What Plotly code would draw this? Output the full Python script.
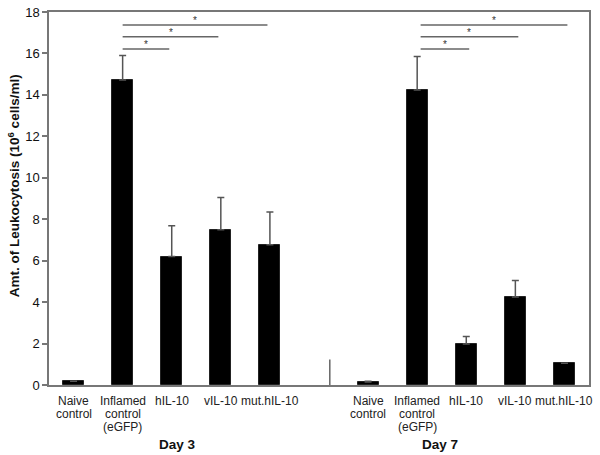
import plotly.graph_objects as go

# ---- data ----
groups = ["Day 3", "Day 7"]
categories = ["Naive<br>control", "Inflamed<br>control<br>(eGFP)", "hIL-10", "vIL-10", "mut.hIL-10"]
day3_values = [0.18, 14.72, 6.20, 7.49, 6.77]
day3_errors = [0.0, 1.18, 1.49, 1.56, 1.58]
day7_values = [0.15, 14.24, 1.98, 4.25, 1.05]
day7_errors = [0.03, 1.61, 0.36, 0.79, 0.0]
y_ticks = [0, 2, 4, 6, 8, 10, 12, 14, 16, 18]
# significance comparisons: (from category index, to category index)
sig_pairs = [(1, 2), (1, 3), (1, 4)]
sig_levels = [16.22, 16.80, 17.37]

FONT = "Arial, 'Liberation Sans', sans-serif"
n = len(categories)
gap = 1
x3 = list(range(n))
x7 = [i + n + gap for i in range(n)]

fig = go.Figure()
for xs, vals, errs in [(x3, day3_values, day3_errors), (x7, day7_values, day7_errors)]:
    fig.add_trace(go.Bar(
        x=xs, y=vals, width=0.43,
        marker=dict(color="#000000", line=dict(color="#222222", width=1)),
        error_y=dict(type="data", symmetric=False, array=errs, arrayminus=[0] * n,
                     color="#555555", thickness=1.5, width=3.5),
        showlegend=False, hoverinfo="skip",
    ))

shapes = []
annotations = []
# significance lines
for xs, offs in [(x3, (0.0, -0.05)), (x7, (0.07, 0.06))]:
    for (a, b), lvl in zip(sig_pairs, sig_levels):
        x0 = xs[a] + offs[0]
        x1 = xs[b] + offs[1]
        shapes.append(dict(type="line", xref="x", yref="y", x0=x0, x1=x1, y0=lvl, y1=lvl,
                           line=dict(color="#666666", width=1.5)))
        annotations.append(dict(x=(x0 + x1) / 2, y=lvl, xref="x", yref="y", text="*",
                                showarrow=False, yanchor="bottom", yshift=-3,
                                font=dict(family=FONT, size=10, color="#333333")))

# separator between groups
sep_x = n - 1 + (gap + 1) / 2 + 0.22
shapes.append(dict(type="line", xref="x", yref="y", x0=sep_x, x1=sep_x, y0=0, y1=1.23,
                   line=dict(color="#666666", width=1.5)))

# category labels (one annotation per line)
for xs in (x3, x7):
    for xi, lab in zip(xs, categories):
        for k, line in enumerate(lab.split("<br>")):
            annotations.append(dict(x=xi, y=0, xref="x", yref="paper", text=line,
                                    showarrow=False, xanchor="center", yanchor="middle",
                                    yshift=-(16.2 + 12.7 * k),
                                    font=dict(family=FONT, size=12, color="#222222")))

# group labels
for g, xs, dx in zip(groups, (x3, x7), (0.12, -0.53)):
    annotations.append(dict(x=(xs[0] + xs[-1]) / 2 + dx, y=0, xref="x", yref="paper", text="<b>%s</b>" % g,
                            showarrow=False, xanchor="center", yanchor="middle", yshift=-59.5,
                            font=dict(family=FONT, size=13.5, color="#111111")))

# y-axis title
annotations.append(dict(x=-0.066, y=0.534, xref="paper", yref="paper",
                        text="<b>Amt. of Leukocytosis (10<sup>6</sup> cells/ml)</b>",
                        textangle=-90, showarrow=False, xanchor="center", yanchor="middle",
                        font=dict(family=FONT, size=13.5, color="#111111")))

fig.update_layout(
    width=600, height=455,
    margin=dict(l=49, r=11, t=12, b=70),
    paper_bgcolor="white", plot_bgcolor="white",
    shapes=shapes, annotations=annotations,
    bargap=0,
    xaxis=dict(range=[-0.5, 2 * n + gap - 0.5], showline=True, mirror=True, linecolor="#777777",
               linewidth=1.5, showticklabels=False, ticks="", showgrid=False, zeroline=False),
    yaxis=dict(range=[0, 18], tickvals=y_ticks, showline=True, mirror=True, linecolor="#777777",
               linewidth=1.5, ticks="outside", ticklen=5, tickcolor="#777777", tickwidth=1.5,
               showgrid=False, zeroline=False, automargin=False,
               tickfont=dict(family=FONT, size=13, color="#111111")),
)

fig.write_html("out.html", config={"displayModeBar": False},
               post_script="document.body.style.margin='0';")
